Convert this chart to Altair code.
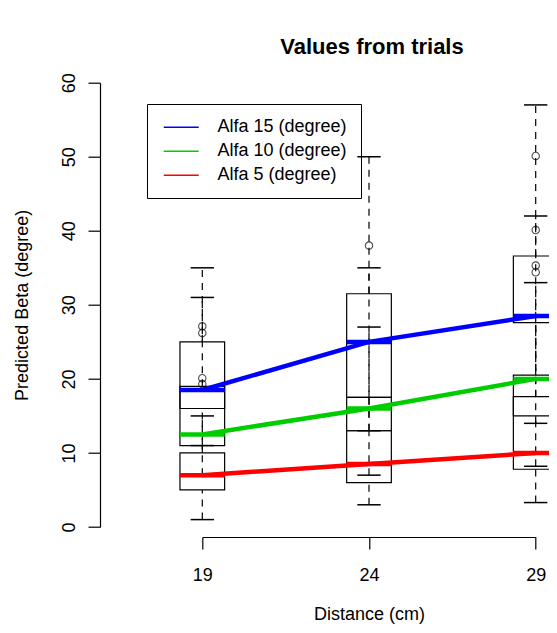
import altair as alt
import pandas as pd

# ---- data ----
positions = [19, 24, 29]
series = ["Alfa 15 (degree)", "Alfa 10 (degree)", "Alfa 5 (degree)"]
colors = ["#0000FF", "#00CD00", "#FF0000"]

# Alfa 15
lo_a15 = [11, 13, 14]
q1_a15 = [16, 17.5, 27.6]
med_a15 = [18.5, 25, 28.5]
q3_a15 = [25, 31.5, 36.6]
hi_a15 = [35, 50, 57]
# Alfa 10
lo_a10 = [7, 7, 8.2]
q1_a10 = [11, 13, 15]
med_a10 = [12.5, 16, 20]
q3_a10 = [19, 17.5, 20.5]
hi_a10 = [31, 35, 42]
# Alfa 5
lo_a5 = [1, 3, 3.3]
q1_a5 = [5, 6, 7.8]
med_a5 = [7, 8.5, 10]
q3_a5 = [10, 13, 17.6]
hi_a5 = [15, 27, 33]

out_pos = [19, 19, 19, 19, 24, 29, 29, 29, 29]
out_val = [19.3, 20.1, 26.2, 27.1, 38, 50.1, 40.1, 35.3, 34.4]

y_ticks = [0, 10, 20, 30, 40, 50, 60]

BOX_HW = 0.67
CAP_HW = 0.35
FONT = "Liberation Sans"

stats = {
    series[0]: (lo_a15, q1_a15, med_a15, q3_a15, hi_a15),
    series[1]: (lo_a10, q1_a10, med_a10, q3_a10, hi_a10),
    series[2]: (lo_a5, q1_a5, med_a5, q3_a5, hi_a5),
}
rows = []
for s, (lo, q1, med, q3, hi) in stats.items():
    for i, p in enumerate(positions):
        rows.append(dict(series=s, pos=p, lo=lo[i], q1=q1[i], med=med[i],
                         q3=q3[i], hi=hi[i], bl=p - BOX_HW, br=p + BOX_HW,
                         cl=p - CAP_HW, cr=p + CAP_HW))
df = pd.DataFrame(rows)
df_out = pd.DataFrame(dict(pos=out_pos, val=out_val))

xscale = alt.Scale(domain=[19, 29], nice=False, zero=False)
yscale = alt.Scale(domain=[0, 60], nice=False, zero=False)
xaxis = alt.Axis(values=positions, title="Distance (cm)", offset=10, tickSize=12,
                 labelPadding=17, titlePadding=21, grid=False, format="d")
yaxis = alt.Axis(values=y_ticks, title="Predicted Beta (degree)", offset=102.3,
                 tickSize=12, labelAngle=270, labelAlign="center",
                 labelBaseline="bottom", labelPadding=10, titlePadding=29, grid=False)


def X(f):
    return alt.X(f, type="quantitative", scale=xscale, axis=xaxis)


def Y(f):
    return alt.Y(f, type="quantitative", scale=yscale, axis=yaxis)


base = alt.Chart(df)

boxes = base.mark_rect(fillOpacity=0, stroke="black", strokeWidth=1.2, clip=False).encode(
    x=X("bl"), x2="br", y=Y("q1"), y2="q3")

whisk_hi = base.mark_rule(color="black", strokeWidth=1.2, strokeDash=[7, 6], clip=False).encode(
    x=X("pos"), y=Y("q3"), y2="hi")
whisk_lo = base.mark_rule(color="black", strokeWidth=1.2, strokeDash=[7, 6], clip=False).encode(
    x=X("pos"), y=Y("lo"), y2="q1")
cap_hi = base.mark_rule(color="black", strokeWidth=1.5, clip=False).encode(
    x=X("cl"), x2="cr", y=Y("hi"))
cap_lo = base.mark_rule(color="black", strokeWidth=1.5, clip=False).encode(
    x=X("cl"), x2="cr", y=Y("lo"))

outliers = alt.Chart(df_out).mark_point(shape="circle", size=55, filled=False, color="black",
                                         strokeWidth=1.1, clip=False).encode(
    x=X("pos"), y=Y("val"))

cscale = alt.Scale(domain=series, range=colors)
legend = alt.Legend(title=None, orient="none", legendX=-55.3, legendY=21.3,
                    strokeColor="black", padding=13.7,
                    symbolType="M-0.737,0H3.263", symbolSize=306,
                    symbolStrokeWidth=1.5, labelFontSize=18, rowPadding=5,
                    labelFont=FONT, labelOffset=37.8, labelColor="black")

med_seg = base.mark_rule(strokeWidth=4.5, clip=False).encode(
    x=X("bl"), x2="br", y=Y("med"),
    color=alt.Color("series:N", scale=cscale, legend=legend))

lines = base.mark_line(strokeWidth=4.5, clip=False).encode(
    x=X("pos"), y=Y("med"),
    color=alt.Color("series:N", scale=cscale, legend=legend),
    order="pos:Q")

chart = alt.layer(boxes, whisk_hi, whisk_lo, cap_hi, cap_lo, outliers, med_seg, lines).properties(
    width=333.4, height=444.3,
    title=alt.TitleParams("Values from trials", font=FONT, fontSize=22, fontWeight="bold",
                          color="black", offset=14, dx=3, anchor="middle"),
    autosize=alt.AutoSizeParams(type="none"),
    padding={"left": 194.3, "top": 74.7, "right": 13.3, "bottom": 98},
).configure_view(stroke=None).configure_axis(
    labelFont=FONT, titleFont=FONT, labelFontSize=18, titleFontSize=18,
    labelColor="black", titleColor="black", tickColor="black", domainColor="black",
    labelFontWeight="normal", titleFontWeight="normal", tickWidth=1.2, domainWidth=1.2,
    labelOverlap=False, labelFlush=False
)

chart.save("out.html", embed_options={"renderer": "svg", "actions": False})
